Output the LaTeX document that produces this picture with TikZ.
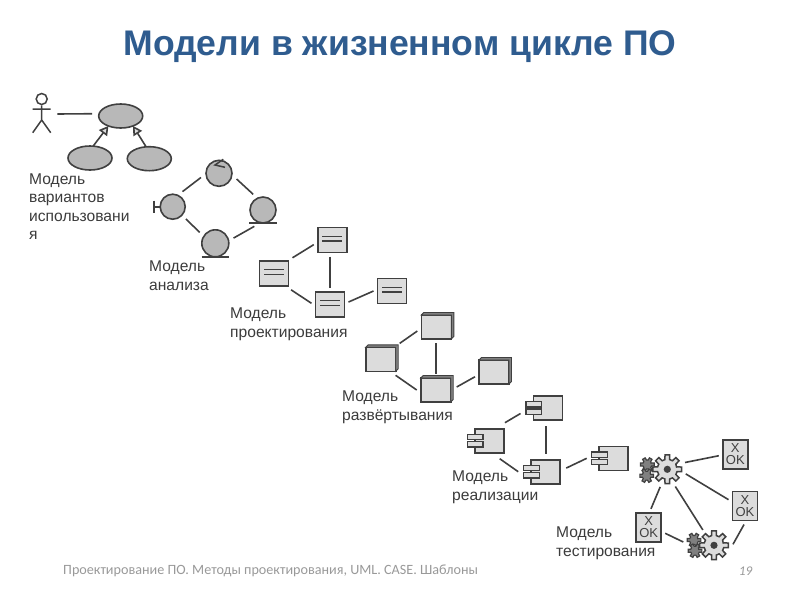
\documentclass[tikz,border=0pt]{standalone}
\usepackage{fontspec}
\setmainfont{Liberation Sans}
\newfontfamily\footfont{Carlito}
\usetikzlibrary{shapes.geometric,arrows.meta}
\definecolor{titleblue}{HTML}{2F5C8F}
\definecolor{ink}{HTML}{404040}
\definecolor{darkfill}{HTML}{B8B8B8}
\definecolor{lightfill}{HTML}{DCDCDC}
\definecolor{labelgray}{HTML}{3C3C3C}
\definecolor{footgray}{HTML}{999999}
\tikzset{
  shapeline/.style={draw=ink,line width=1.6pt},
  conn/.style={draw=ink,line width=1.6pt},
  usecase/.style={shapeline,ellipse,fill=darkfill,inner sep=0,outer sep=0,minimum width=44,minimum height=24},
  ball/.style={shapeline,circle,fill=darkfill,inner sep=0,outer sep=5.5,minimum size=26},
  classbox/.style={shapeline,rectangle,fill=lightfill,inner sep=0,outer sep=4,minimum width=29,minimum height=25},
  cube/.style={shapeline,rectangle,fill=lightfill,inner sep=0,outer sep=4,minimum width=30,minimum height=24},
  compbox/.style={shapeline,rectangle,fill=lightfill,inner sep=0,outer sep=6,minimum width=29,minimum height=24},
  testbox/.style={draw=ink,line width=1.6pt,rectangle,fill=lightfill,inner sep=0,outer sep=4,minimum width=25,minimum height=29,align=center,font=\fontsize{13}{12.5}\selectfont,text=ink},
  gearnode/.style={circle,inner sep=0,outer sep=4,minimum size=30},
  lbl/.style={anchor=north west,inner sep=0,align=left,text=labelgray,font=\fontsize{15.6}{18.5}\selectfont},
  pics/gear/.style={code={
    \filldraw[draw=ink,fill=#1,line width=1.5pt] (-14:9.5)
      \foreach \a in {0,45,...,315} { -- (\a-14:10) -- (\a-9:14.5) -- (\a+9:14.5) -- (\a+14:10) } -- cycle;
    \fill[ink] (0,0) circle (3.6);
  }},
  pics/smallgear/.style={code={
    \filldraw[draw=ink,fill=gray,line width=1.2pt] (-20:4)
      \foreach \a in {0,60,...,300} { -- (\a-20:4.5) -- (\a-12:7) -- (\a+12:7) -- (\a+20:4.5) } -- cycle;
  }},
}
\newcommand{\classlines}[1]{%
  \draw[ink,line width=1.3pt] ([shift={(-10,-3.5)}]#1.center) -- ([shift={(10,-3.5)}]#1.center);
  \draw[ink,line width=1.3pt] ([shift={(-10,1)}]#1.center) -- ([shift={(10,1)}]#1.center);
}
\newcommand{\cubeedge}[1]{%
  \draw[ink,fill=gray,line width=.9pt] ([shift={(-15,-12)}]#1.center) -- ++(2.5,-2.5) -- ++(30,0) -- ++(0,24) -- ++(-2.5,2.5) -- ++(0,-24) -- cycle;
}
\newcommand{\comptabs}[1]{%
  \draw[shapeline,line width=1.4pt,fill=lightfill] ([shift={(-22,-6.3)}]#1.center) rectangle ++(15.7,5.3);
  \draw[shapeline,line width=1.4pt,fill=lightfill] ([shift={(-22,1)}]#1.center) rectangle ++(15.7,5.3);
}
\begin{document}
\begin{tikzpicture}[x=1pt,y=-1pt]
\useasboundingbox (0,0) rectangle (800,600);
\fill[white] (0,0) rectangle (800,600);

\node[anchor=center,inner sep=0,text=titleblue,font=\fontsize{35.6}{38}\bfseries\selectfont] (title) at (400,47) {Модели в жизненном цикле ПО};

% use cases
\node[circle,draw=ink,line width=1.5pt,minimum size=11,inner sep=0] (head) at (41.7,99) {};
\coordinate (hip) at (41.7,120);
\coordinate (handl) at (32.7,109);
\coordinate (handr) at (50.7,109);
\coordinate (footl) at (32.7,132.7);
\coordinate (footr) at (50.7,132.7);
\draw[ink,line width=1.5pt] (head) -- (hip) (handl) -- (handr) (footl) -- (hip) -- (footr);
\node[usecase] (uc) at (120.7,116) {};
\node[usecase] (ucl) at (90,158) {};
\node[usecase] (ucr) at (149.3,158.7) {};
\coordinate (actorend) at (57.3,114);
\draw[conn] (actorend) -- ([xshift=-7pt]uc.174);
\draw[conn,-{Triangle[open,fill=lightfill,length=9pt,width=10pt]}] (ucl.75) -- (uc.219);
\draw[conn,-{Triangle[open,fill=lightfill,length=9pt,width=10pt]}] (ucr.105) -- (uc.321);

% analysis
\node[ball] (ct) at (219,173.3) {};
\node[ball,minimum size=25] (cl) at (172.7,206.7) {};
\node[ball] (cr) at (263,210) {};
\node[ball,minimum size=27] (cb) at (215.3,243.3) {};
\draw[ink,line width=1.5pt] (223.3,159.3) -- (215,165) -- (225,167.3);
\draw[ink,line width=1.6pt] (154,200.7) -- (154,212.7) (154,206.7) -- ([xshift=5.5pt]cl.west);
\draw[ink,line width=1.6pt] (249,223) -- (276.7,223);
\draw[ink,line width=1.6pt] (201.7,256.7) -- (229,256.7);
\draw[conn] (cl.57) -- (ct.193);
\draw[conn] (ct.-18) -- (cr.122);
\draw[conn] (cl.-43) -- (cb.145);
\draw[conn] (cb.16) -- (cr.242);

% design
\node[classbox] (r1) at (332.3,240) {};
\node[classbox] (r2) at (274,273.3) {};
\node[classbox] (r3) at (330,304.3) {};
\node[classbox] (r4) at (392,291) {};
\classlines{r1}\classlines{r2}\classlines{r3}\classlines{r4}
\draw[conn] (r2.40) -- (r1.194);
\draw[conn] (r3.north |- r1.south) -- (r3.north);
\draw[conn] (r2.-44) -- (r3.177);
\draw[conn] (r3.7) -- (r4.180);

% deployment
\node[cube] (b1) at (436.3,327) {};
\node[cube] (b2) at (380.7,359.3) {};
\node[cube] (b3) at (435.7,390) {};
\node[cube] (b4) at (494,372) {};
\cubeedge{b1}\cubeedge{b2}\cubeedge{b3}\cubeedge{b4}
\draw[conn] (b2.40) -- (b1.192);
\draw[conn] (b3.north |- b1.south) -- (b3.north);
\draw[conn] (b2.-47) -- (b3.180);
\draw[conn] ([xshift=2pt]b3.9) -- (b4.194);

% implementation
\node[compbox] (c1) at (548,408) {};
\node[compbox] (c2) at (489.3,440.7) {};
\node[compbox] (c3) at (545.7,471.7) {};
\node[compbox] (c4) at (613.7,458.3) {};
\comptabs{c1}\comptabs{c2}\comptabs{c3}\comptabs{c4}
\draw[conn] (c2.49) -- ([xshift=-7pt]c1.195);
\draw[conn] (c3.north |- c1.south) -- (c3.north);
\draw[conn] (c2.-60) -- ([xshift=-7pt]c3.180);
\draw[conn] (c3.10) -- ([xshift=-6.5pt]c4.180);

% testing
\node[gearnode] (g1) at (667.3,469.3) {};
\node[gearnode] (g2) at (714,545.3) {};
\pic at (647.3,464.5) {smallgear};
\pic at (646.7,475.7) {smallgear};
\pic at (694,540) {smallgear};
\pic at (695,550.7) {smallgear};
\pic at (g1) {gear=lightfill};
\pic at (g2) {gear=lightfill};
\node[testbox] (k1) at (735.3,454.3) {X\\OK};
\node[testbox] (k2) at (745,506) {X\\OK};
\node[testbox] (k3) at (648.7,527.3) {X\\OK};
\draw[conn] (g1.21) -- (k1.185);
\draw[conn] (g1.-14) -- (k2.159);
\draw[conn] (g1.248) -- (k3.83);
\draw[conn] (g1.-65) -- (g2.126);
\draw[conn] (k3.-20) -- ([xshift=-12pt]g2.170);
\draw[conn] (k2.267) -- (g2.3);

% labels
\node[lbl] (l1) at (29,173.5) {Модель\\вариантов\\использовани\\я};
\node[lbl] (l2) at (149,261) {Модель\\анализа};
\node[lbl] (l3) at (230,308) {Модель\\проектирования};
\node[lbl] (l4) at (342,391) {Модель\\развёртывания};
\node[lbl] (l5) at (452,471) {Модель\\реализации};
\node[lbl] (l6) at (556,527) {Модель\\тестирования};

% footer
\node[anchor=west,inner sep=0,text=footgray,font=\footfont\fontsize{14.15}{16}\selectfont] (foot) at (63,571) {Проектирование ПО. Методы проектирования, UML. CASE. Шаблоны};
\node[anchor=center,inner sep=0,text=footgray,font=\footfont\itshape\fontsize{13.3}{15}\selectfont] (page) at (745.5,571) {19};
\end{tikzpicture}
\end{document}
